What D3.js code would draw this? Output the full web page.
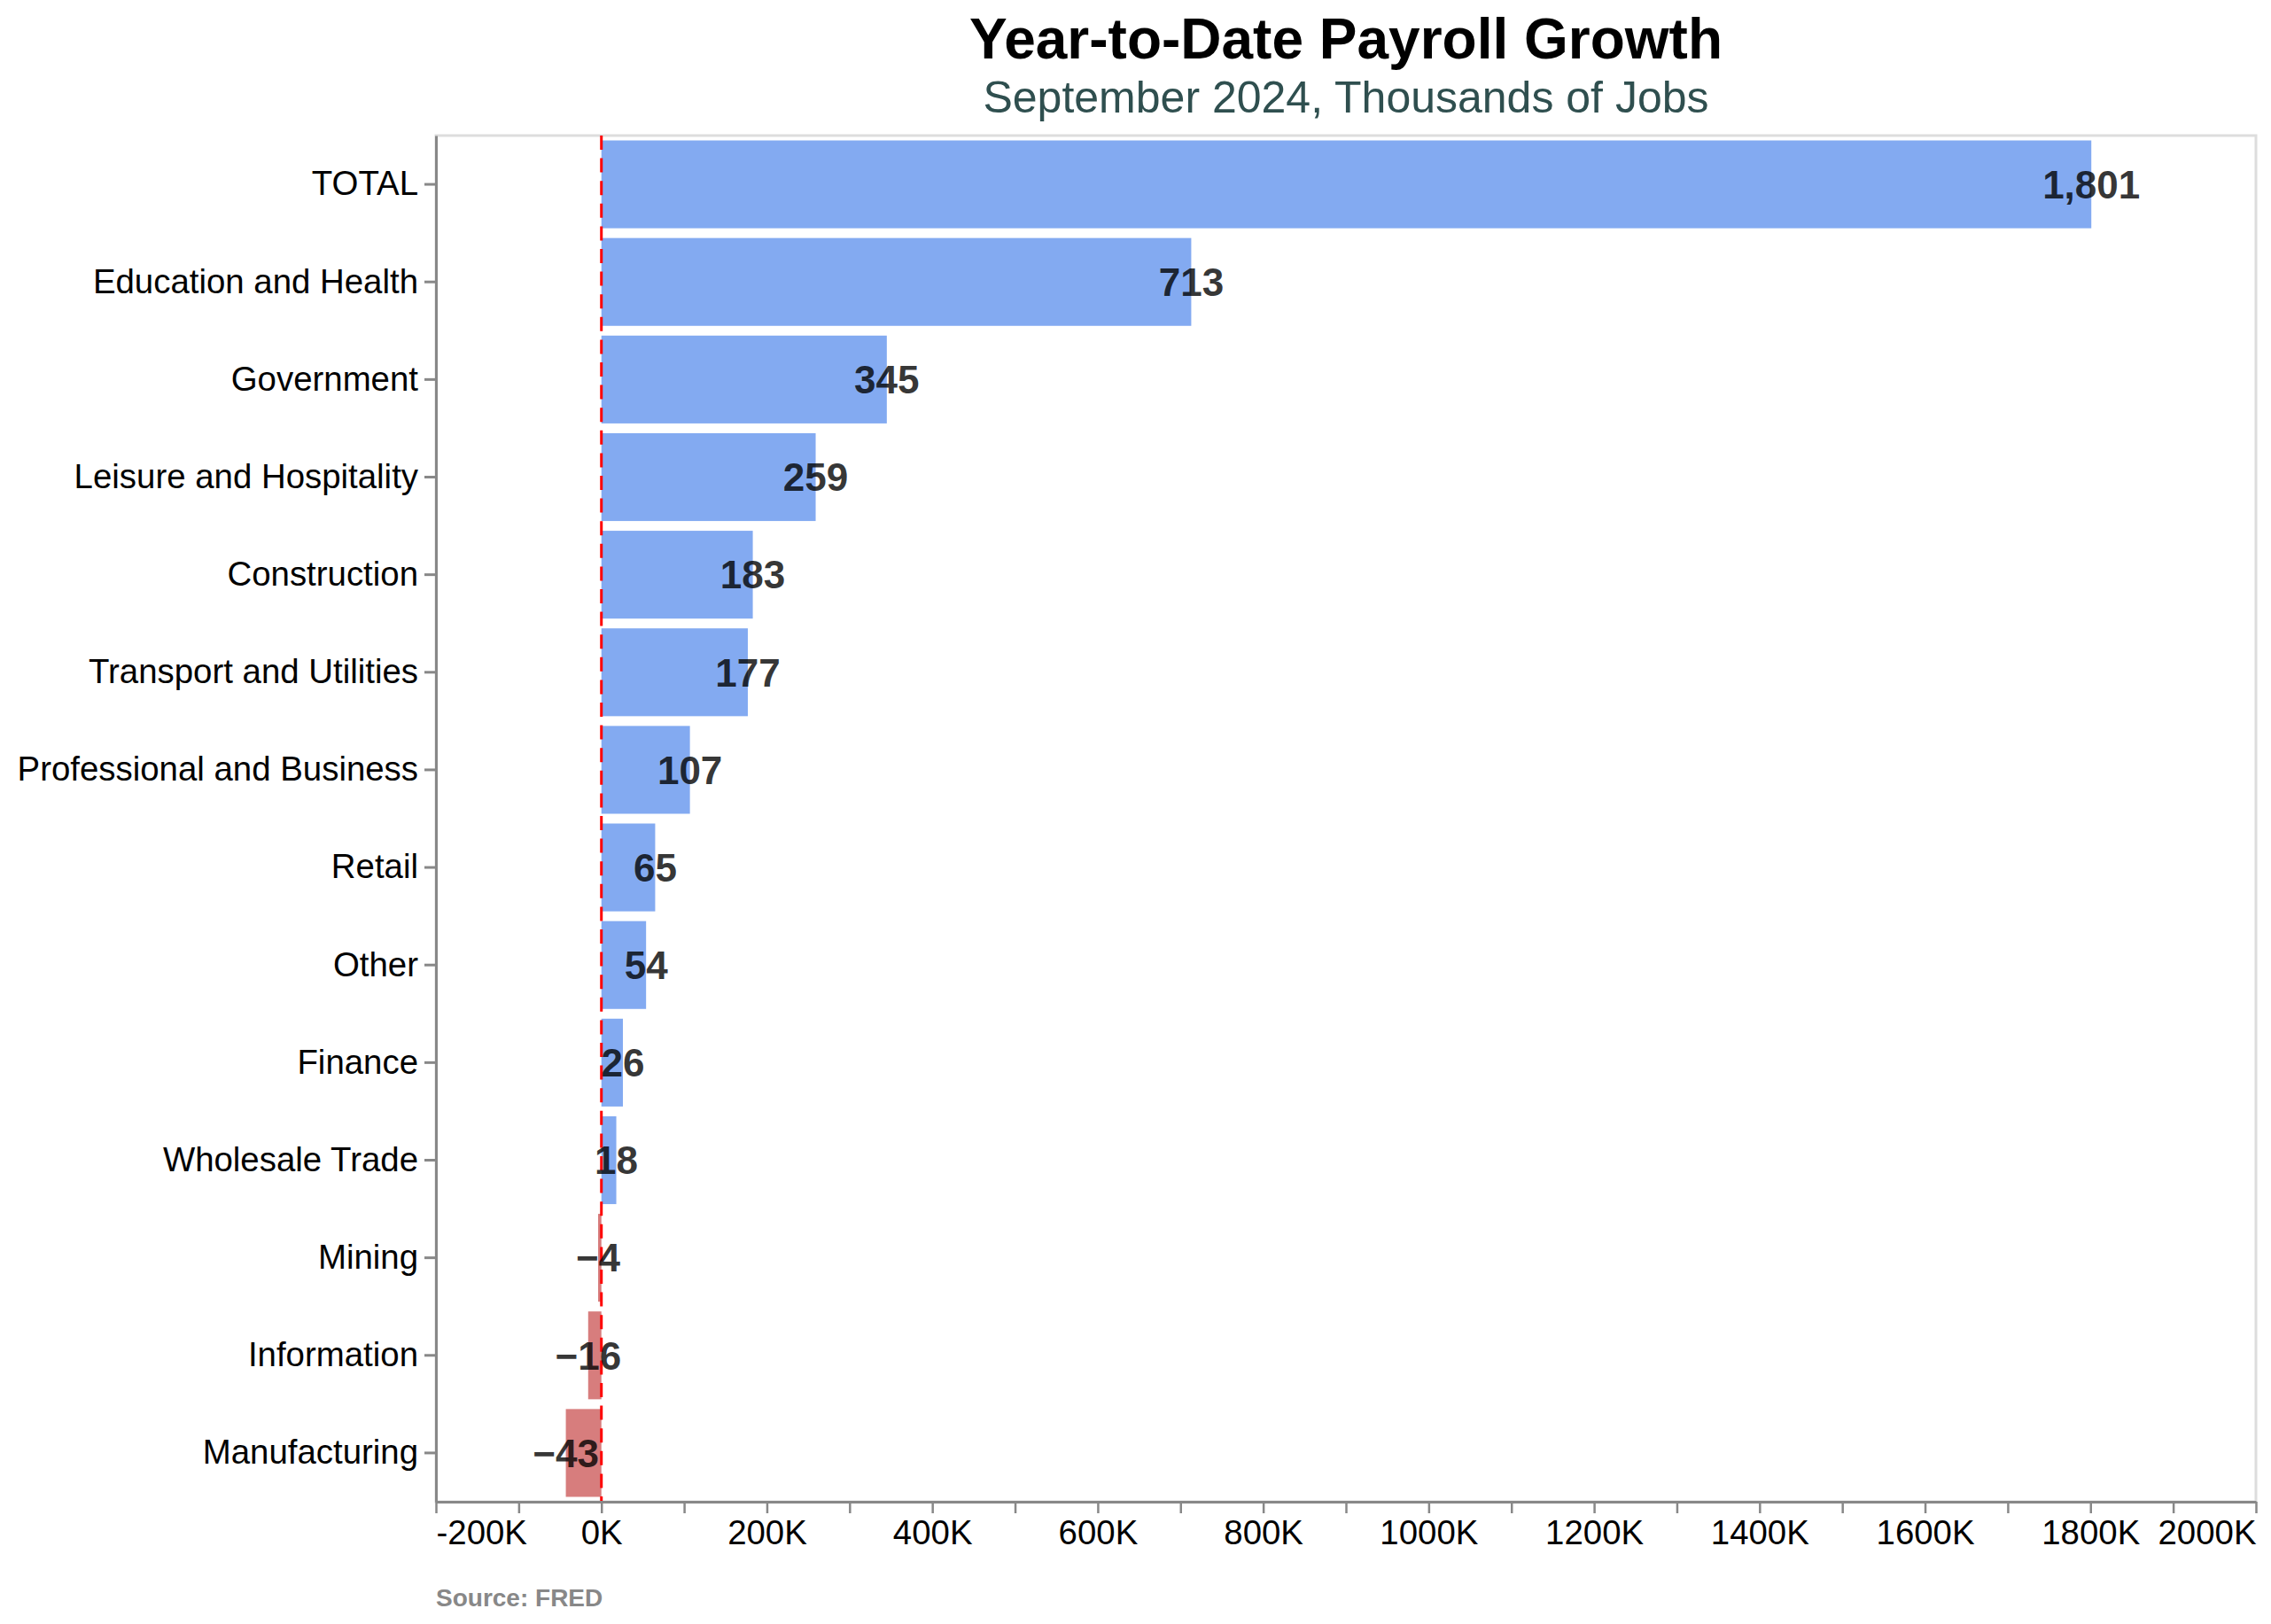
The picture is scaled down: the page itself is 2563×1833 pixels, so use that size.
<!DOCTYPE html>
<html lang="en">
<head>
    <meta charset="UTF-8">
    <title>Year-to-Date Payroll Growth</title>
    <script src="https://d3js.org/d3.v7.min.js"></script>
    <style>
        body { margin: 0; background: #fff; font-family: "Liberation Sans", Arial, Helvetica, sans-serif; }
    </style>
</head>
<body>
    <div id="container"></div>
    <script>
        // data (thousands of jobs, year to date)
        const sectors = ["TOTAL", "Education and Health", "Government", "Leisure and Hospitality",
            "Construction", "Transport and Utilities", "Professional and Business", "Retail",
            "Other", "Finance", "Wholesale Trade", "Mining", "Information", "Manufacturing"];
        const growth = [1801, 713, 345, 259, 183, 177, 107, 65, 54, 26, 18, -4, -16, -43];
        const xTicks = d3.range(-200, 2001, 100);
        const xLabelTicks = d3.range(-200, 2001, 200);

        const data = sectors.map((s, i) => ({ sector: s, value: growth[i] }));

        const W = 2563, H = 1833;
        const m = { left: 492, right: 17, top: 153, bottom: 138 };
        const iw = W - m.left - m.right, ih = H - m.top - m.bottom;

        const svg = d3.select("#container").append("svg")
            .attr("width", W).attr("height", H)
            .style("font-family", '"Liberation Sans", Arial, Helvetica, sans-serif');

        const x = d3.scaleLinear().domain([-200, 2000]).range([0, iw]);
        const y = d3.scaleBand().domain(sectors).range([0, ih]).paddingInner(0.1).paddingOuter(0.05);

        const g = svg.append("g").attr("transform", `translate(${m.left},${m.top})`);

        // view frame
        g.append("rect").attr("width", iw).attr("height", ih)
            .attr("fill", "none").attr("stroke", "#ddd").attr("stroke-width", 3);

        // bars
        g.selectAll(".bar").data(data).enter().append("rect")
            .attr("class", "bar")
            .attr("x", d => x(Math.min(0, d.value)))
            .attr("width", d => Math.abs(x(d.value) - x(0)))
            .attr("y", d => y(d.sector))
            .attr("height", y.bandwidth())
            .attr("fill", d => d.value >= 0 ? "cornflowerblue" : "indianred")
            .attr("fill-opacity", 0.8);

        // zero line
        g.append("line")
            .attr("x1", x(0)).attr("x2", x(0)).attr("y1", 0).attr("y2", ih)
            .attr("stroke", "red").attr("stroke-width", 3).attr("stroke-dasharray", "16,9.6");

        // value labels
        const fmt = d3.format(",");
        g.selectAll(".val").data(data).enter().append("text")
            .attr("class", "val")
            .attr("x", d => x(d.value))
            .attr("y", d => y(d.sector) + y.bandwidth() / 2)
            .attr("dy", "0.36em")
            .attr("text-anchor", "middle")
            .attr("font-weight", "bold")
            .attr("font-size", 44)
            .attr("fill", "#000").attr("fill-opacity", 0.8)
            .text(d => fmt(d.value));

        // y axis
        const yAxis = g.append("g")
            .call(d3.axisLeft(y).tickSize(13).tickSizeOuter(0).tickPadding(7));
        yAxis.select(".domain").attr("stroke", "#888").attr("stroke-width", 3);
        yAxis.selectAll(".tick line").attr("stroke", "#888").attr("stroke-width", 3);
        yAxis.selectAll(".tick text").attr("font-size", 38.4).attr("fill", "#000")
            .attr("font-family", '"Liberation Sans", Arial, Helvetica, sans-serif');

        // x axis
        const xAxis = g.append("g").attr("transform", `translate(0,${ih})`)
            .call(d3.axisBottom(x).tickValues(xTicks).tickSize(13).tickSizeOuter(0).tickPadding(8)
                .tickFormat(d => xLabelTicks.includes(d) ? d + "K" : ""));
        xAxis.select(".domain").attr("stroke", "#888").attr("stroke-width", 3);
        xAxis.selectAll(".tick line").attr("stroke", "#888").attr("stroke-width", 2.5);
        xAxis.selectAll(".tick text").attr("font-size", 38.4).attr("fill", "#000")
            .attr("font-family", '"Liberation Sans", Arial, Helvetica, sans-serif')
            .attr("text-anchor", d => d === -200 ? "start" : d === 2000 ? "end" : "middle");

        // title, subtitle, source
        svg.append("text").attr("x", m.left + iw / 2).attr("y", 66)
            .attr("text-anchor", "middle").attr("font-weight", "bold").attr("font-size", 64)
            .attr("fill", "#000").text("Year-to-Date Payroll Growth");
        svg.append("text").attr("x", m.left + iw / 2).attr("y", 127)
            .attr("text-anchor", "middle").attr("font-size", 50)
            .attr("fill", "#2F4F4F").text("September 2024, Thousands of Jobs");
        svg.append("text").attr("x", m.left).attr("y", 1813)
            .attr("font-weight", "bold").attr("font-size", 28)
            .attr("fill", "#888").text("Source: FRED");
    </script>
</body>
</html>
